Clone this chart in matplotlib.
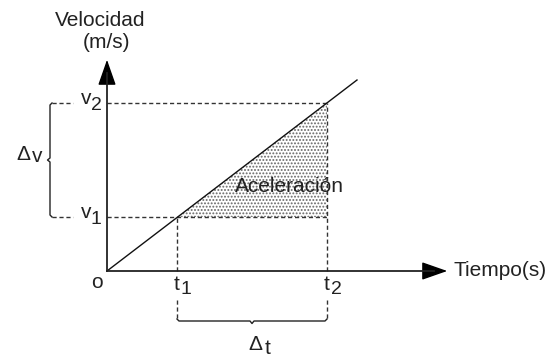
import matplotlib
matplotlib.use("Agg")
import matplotlib.pyplot as plt
from matplotlib.patches import Polygon, FancyArrowPatch

plt.rcParams['font.family'] = ['Liberation Sans', 'DejaVu Sans']
plt.rcParams['hatch.linewidth'] = 0.9

# ---- data (arbitrary units, origin at 0) ----
t_marks = [70, 220]          # t1, t2
v_marks = [54, 168]          # v1, v2
line_t = [0, 250]
line_v = [0, 191]
t_labels = ["t", "t"]
t_subs = ["1", "2"]
v_labels = ["v", "v"]
v_subs = ["1", "2"]
x_title = "Tiempo(s)"
y_title = ["Velocidad", "(m/s)"]
area_label = "Aceleración"

W, H = 555, 357
fig = plt.figure(figsize=(W / 100, H / 100), dpi=100)
ax = fig.add_axes([0, 0, 1, 1])
ax.set_xlim(-107, W - 107)
ax.set_ylim(271 - H, 271)
ax.axis('off')

t1, t2 = t_marks
v1, v2 = v_marks
dash = dict(color='#333333', lw=1.0, linestyle=(0, (3, 2)))
fs = 15
tc = '#222222'

# shaded triangle (dotted)
tri = Polygon([(t1, v1), (t2, v1), (t2, v2)], closed=True, facecolor='none',
              edgecolor='#666666', hatch='.....', lw=0)
ax.add_patch(tri)

# dashed guides right of axis
for v in v_marks:
    ax.plot([0, t2], [v, v], **dash)
for t, v in zip(t_marks, v_marks):
    ax.plot([t, t], [0, v], **dash)

# left brace + dashed stubs
bx = -57
for v in v_marks:
    ax.plot([bx + 2, bx + 23], [v, v], **dash)
mid_v = (v1 + v2) / 2
ax.plot([bx + 2, bx, bx, bx - 2.5, bx, bx, bx + 2],
        [v2, v2 - 2, mid_v + 2, mid_v, mid_v - 2, v1 + 2, v1],
        color='#222222', lw=1.0)

# bottom brace + dashed stubs
by = -50
for t in t_marks:
    ax.plot([t, t], [-29, by + 3], **dash)
mid_t = (t1 + t2) / 2
ax.plot([t1, t1 + 2, mid_t - 2, mid_t, mid_t + 2, t2 - 2, t2],
        [by + 2, by, by, by - 2.5, by, by, by + 2],
        color='#222222', lw=1.0)

# main line
ax.plot(line_t, line_v, color='#111111', lw=1.0)

# axes with arrows
ax.plot([0, 0], [0, 198], color='#222222', lw=1.3)
ax.plot([0, 327], [0, 0], color='#222222', lw=1.3)
ax.add_patch(FancyArrowPatch((0, 190), (0, 214),
             arrowstyle='-|>,head_length=1.0,head_width=0.35',
             mutation_scale=16, color='black', lw=1))
ax.add_patch(FancyArrowPatch((320, 0), (343, 0),
             arrowstyle='-|>,head_length=1.0,head_width=0.35',
             mutation_scale=16, color='black', lw=1))

# texts
ax.text(-7, 250, y_title[0], fontsize=fs, ha='center', va='center', color=tc)
ax.text(-1, 228, y_title[1], fontsize=fs, ha='center', va='center', color=tc)
ax.text(347, 0, x_title, fontsize=fs, ha='left', va='center', color=tc)
ax.text(182, 84, area_label, fontsize=fs, ha='center', va='center', color=tc)
ax.text(-10, -12, "o", fontsize=fs, ha='center', va='center', color=tc)

# v labels
for v, lab, sub in zip(v_marks, v_labels, v_subs):
    ax.text(-21, v + 5, lab, fontsize=fs, ha='center', va='center', color=tc)
    ax.text(-11, v - 3, sub, fontsize=fs - 1, ha='center', va='center', color=tc)

# t labels
for t, lab, sub in zip(t_marks, t_labels, t_subs):
    ax.text(t, -14, lab, fontsize=fs, ha='center', va='center', color=tc)
    ax.text(t + 9, -18, sub, fontsize=fs - 1, ha='center', va='center', color=tc)

# delta labels
ax.text(-84, 117, "Δ", fontsize=fs, ha='center', va='center', color=tc)
ax.text(-70, 114, "v", fontsize=fs, ha='center', va='center', color=tc)
ax.text(mid_t + 3, -73, "Δ", fontsize=fs, ha='center', va='center', color=tc)
ax.text(mid_t + 16, -77, "t", fontsize=fs, ha='center', va='center', color=tc)

fig.savefig("out.png", dpi=100)
